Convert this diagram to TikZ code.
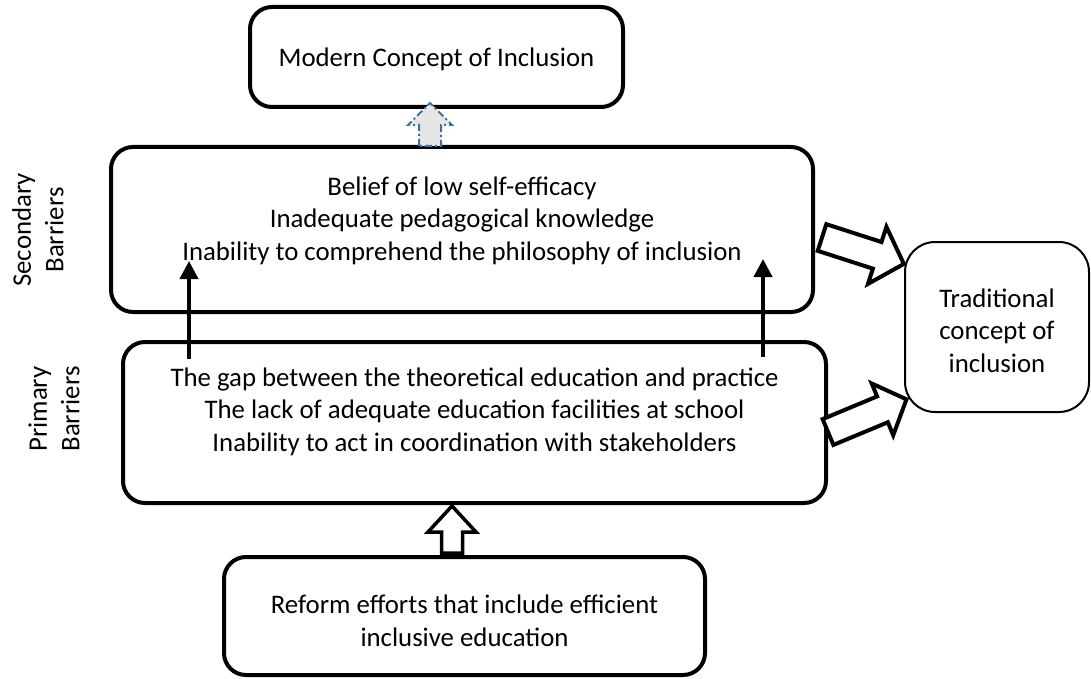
\documentclass[tikz,border=0pt]{standalone}
\usepackage{fontspec}
\setmainfont{Carlito}
\usetikzlibrary{arrows.meta}
\definecolor{dashblue}{HTML}{41719C}
\definecolor{lightgrey}{HTML}{E7E6E6}
\begin{document}
\begin{tikzpicture}[x=1pt,y=-1pt,
  box/.style={draw, line width=4pt, rounded corners=22pt, fill=white, inner sep=0pt},
  thinbox/.style={draw, line width=2pt, rounded corners=30pt, fill=white, inner sep=0pt},
  txt/.style={align=center, font=\fontsize{26.8}{32.5}\selectfont, inner sep=0pt},
  upline/.style={line width=4pt, -{Triangle[width=18pt,length=18pt]}},
  blockarrow/.style={draw, line width=4pt, fill=white, line join=miter},
  dasharrow/.style={draw=dashblue, line width=2pt, fill=lightgrey, dash pattern=on 7pt off 3pt on 2pt off 3pt}
]
\useasboundingbox (0,0) rectangle (1091,679);

% boxes
\node[box, minimum width=373pt, minimum height=100pt] (top) at (436.5,57) {};
\node[box, minimum width=702pt, minimum height=165pt] (sec) at (462,229.5) {};
\node[box, minimum width=703pt, minimum height=161pt] (prim) at (474.5,422.5) {};
\node[box, minimum width=481pt, minimum height=118pt] (reform) at (464.5,616) {};
\node[thinbox, minimum width=184pt, minimum height=170pt] (trad) at (997,327) {};

% texts
\node[txt] (toptext) at (436.5,59) {Modern Concept of Inclusion};
\node[txt] (sectext) at (462,220.5) {Belief of low self-efficacy\\Inadequate pedagogical knowledge\\Inability to comprehend the philosophy of inclusion};
\node[txt] (primtext) at (474.5,411.5) {The gap between the theoretical education and practice\\The lack of adequate education facilities at school\\Inability to act in coordination with stakeholders};
\node[txt] (reformtext) at (464.5,621) {Reform efforts that include efficient\\inclusive education};
\node[txt] (tradtext) at (997,330.5) {Traditional\\concept of\\inclusion};
\node[txt, rotate=90] (seclab) at (38,230) {Secondary\\Barriers};
\node[txt, rotate=90] (primlab) at (54,409) {Primary\\Barriers};

% thin arrows
\coordinate (la0) at (189,359);
\coordinate (la1) at (189,261);
\coordinate (ra0) at (763,357);
\coordinate (ra1) at (763,259);
\draw[upline] (la0) -- (la1);
\draw[upline] (ra0) -- (ra1);

% dashed block arrow (sec -> top)
\draw[dasharrow] (419,146) -- (419,125) -- (408,125) -- (430,103) -- (452,125) -- (441,125) -- (441,146) -- cycle;

% bottom block arrow (reform -> prim)
\draw[blockarrow, line width=3.5pt] (441.5,553) -- (441.5,532) -- (428,532) -- (452,506) -- (476,532) -- (462.5,532) -- (462.5,553) -- cycle;

% right block arrows
\begin{scope}[shift={(822,237.5)}, rotate=-17.9]
  \draw[blockarrow] (0,-14) -- (58,-14) -- (58,-30) -- (86,0) -- (58,30) -- (58,14) -- (0,14) -- cycle;
\end{scope}
\begin{scope}[shift={(828,432)}, rotate=22.6]
  \draw[blockarrow] (0,-14) -- (59,-14) -- (59,-28) -- (85,0) -- (59,28) -- (59,14) -- (0,14) -- cycle;
\end{scope}
\end{tikzpicture}
\end{document}
